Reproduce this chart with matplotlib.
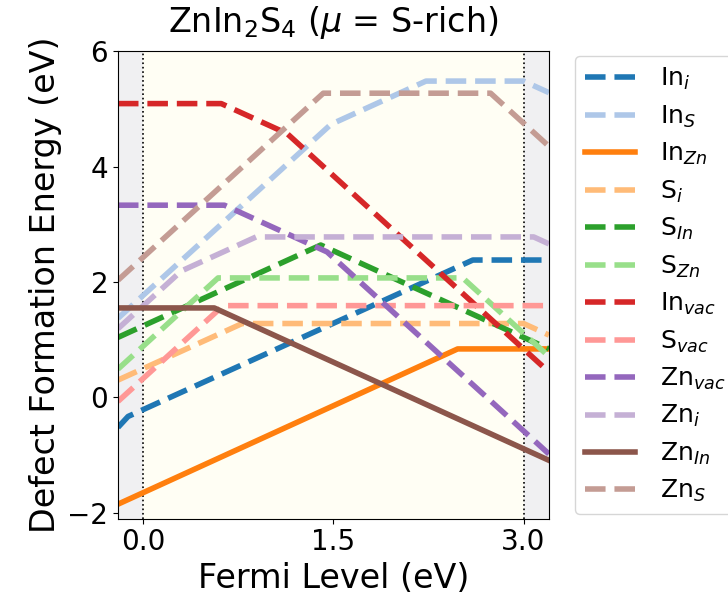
import matplotlib
matplotlib.use("Agg")
import matplotlib.pyplot as plt

# breakpoints (Fermi level eV, formation energy eV)
labels = ["In$_i$", "In$_S$", "In$_{Zn}$", "S$_i$", "S$_{In}$", "S$_{Zn}$",
          "In$_{vac}$", "S$_{vac}$", "Zn$_{vac}$", "Zn$_i$", "Zn$_{In}$", "Zn$_S$"]

In_i_x = [-0.2, -0.12, 2.6, 3.2]
In_i_y = [-0.52, -0.33, 2.38, 2.38]
In_S_x = [-0.2, 1.48, 2.23, 3.0, 3.2]
In_S_y = [1.37, 4.73, 5.48, 5.48, 5.28]
In_Zn_x = [-0.2, 2.48, 3.2]
In_Zn_y = [-1.85, 0.84, 0.84]
S_i_x = [-0.2, 0.78, 3.0, 3.2]
S_i_y = [0.30, 1.28, 1.28, 1.08]
S_In_x = [-0.2, 1.40, 3.2]
S_In_y = [1.04, 2.64, 0.84]
S_Zn_x = [-0.2, 0.59, 2.52, 3.2]
S_Zn_y = [0.49, 2.07, 2.07, 0.71]
In_vac_x = [-0.2, 0.615, 1.135, 3.2]
In_vac_y = [5.09, 5.09, 4.57, 0.44]
S_vac_x = [-0.2, 0.63, 3.2]
S_vac_y = [-0.07, 1.59, 1.59]
Zn_vac_x = [-0.2, 0.64, 1.45, 3.2]
Zn_vac_y = [3.33, 3.33, 2.52, -0.98]
Zn_i_x = [-0.2, 0.30, 0.89, 3.08, 3.2]
Zn_i_y = [1.19, 2.19, 2.78, 2.78, 2.66]
Zn_In_x = [-0.2, 0.56, 3.2]
Zn_In_y = [1.55, 1.55, -1.09]
Zn_S_x = [-0.2, 1.42, 2.74, 3.2]
Zn_S_y = [2.03, 5.27, 5.27, 4.35]

series_x = [In_i_x, In_S_x, In_Zn_x, S_i_x, S_In_x, S_Zn_x,
            In_vac_x, S_vac_x, Zn_vac_x, Zn_i_x, Zn_In_x, Zn_S_x]
series_y = [In_i_y, In_S_y, In_Zn_y, S_i_y, S_In_y, S_Zn_y,
            In_vac_y, S_vac_y, Zn_vac_y, Zn_i_y, Zn_In_y, Zn_S_y]
solid = ["In$_{Zn}$", "Zn$_{In}$"]

band_gap = 3.0
xmin, xmax = -0.2, 3.2

fig = plt.figure(figsize=(7.28, 6.08), dpi=100)
ax = fig.add_axes([0.162, 0.147, 0.592, 0.769])

ax.axvspan(xmin, 0, color="#f0f0f2", zorder=0)
ax.axvspan(0, band_gap, color="#fffef4", zorder=0)
ax.axvspan(band_gap, xmax, color="#f0f0f2", zorder=0)
ax.axvline(0, color="k", ls=":", lw=1.2, zorder=1)
ax.axvline(band_gap, color="k", ls=":", lw=1.2, zorder=1)

cmap = plt.get_cmap("tab20")
for i, (lab, xs, ys) in enumerate(zip(labels, series_x, series_y)):
    ls = "-" if lab in solid else "--"
    ax.plot(xs, ys, ls=ls, lw=4, color=cmap(i), label=lab, zorder=2)

ax.set_xlim(xmin, xmax)
ax.set_ylim(-2.1, 6.0)
ax.set_xticks([0.0, 1.5, 3.0])
ax.set_yticks([-2, 0, 2, 4, 6])
ax.tick_params(labelsize=20)
ax.set_xlabel("Fermi Level (eV)", fontsize=24)
ax.set_ylabel("Defect Formation Energy (eV)", fontsize=24)
ax.set_title("ZnIn$_2$S$_4$ ($\\mu$ = S-rich)", fontsize=24, pad=14)

ax.legend(loc="upper left", bbox_to_anchor=(1.06, 0.989), borderaxespad=0,
          fontsize=18, handlelength=2.0, handletextpad=1.0, labelspacing=0.45)

fig.savefig("out.png", dpi=100)
